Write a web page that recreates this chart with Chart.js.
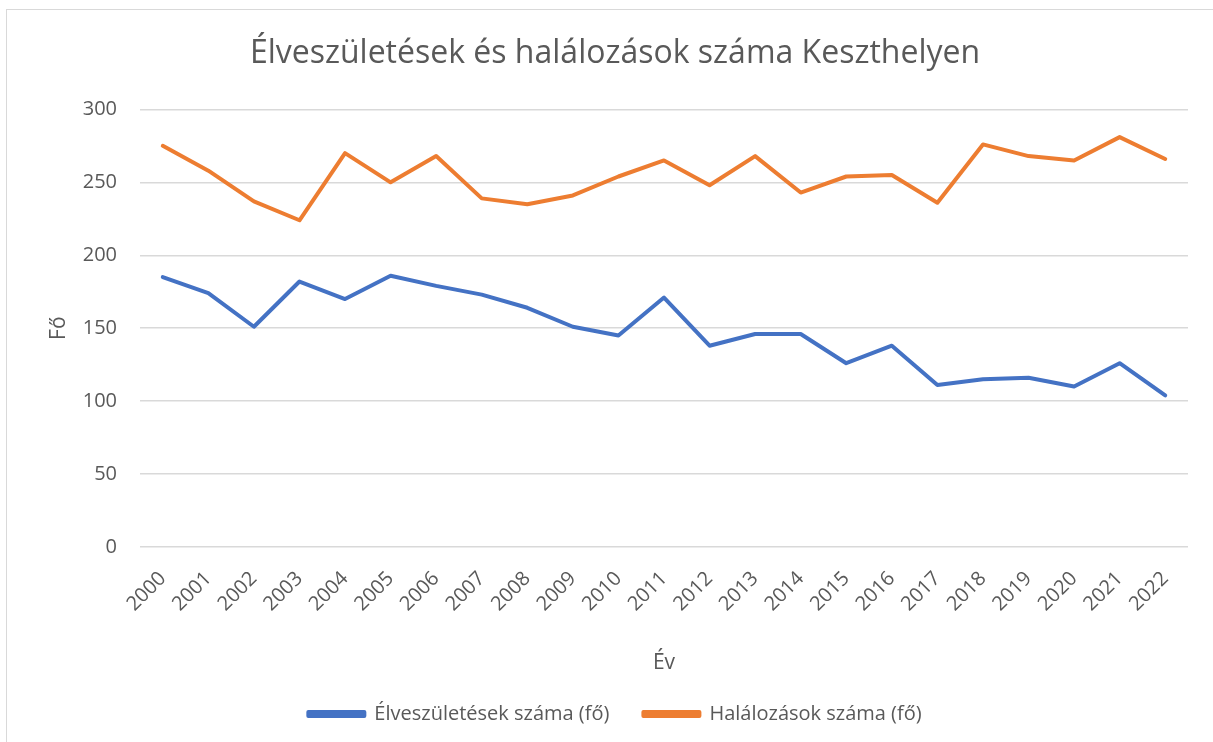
<!DOCTYPE html>
<html>
<head>
<meta charset="utf-8">
<script src="https://cdn.jsdelivr.net/npm/chart.js@4.4.1/dist/chart.umd.min.js"></script>
<style>
  html, body { margin: 0; padding: 0; background: #fff; }
  #wrap { position: relative; width: 1213px; height: 742px; overflow: hidden; }
  #frame { position: absolute; left: 6px; top: 9px; width: 1240px; height: 760px; border: 1.5px solid #d9d9d9; }
  canvas { position: absolute; left: 0; top: 0; }
</style>
</head>
<body>
<div id="wrap">
  <div id="frame"></div>
  <canvas id="chart" width="1213" height="742"></canvas>
</div>
<script>
// years on the x axis
const years = ["2000", "2001", "2002", "2003", "2004", "2005", "2006", "2007", "2008", "2009", "2010", "2011",
  "2012", "2013", "2014", "2015", "2016", "2017", "2018", "2019", "2020", "2021", "2022"];

// live births per year
const births = [185, 174, 151, 182, 170, 186, 179, 173, 164, 151, 145, 171,
  138, 146, 146, 126, 138, 111, 115, 116, 110, 126, 104];

// deaths per year
const deaths = [275, 258, 237, 224, 270, 250, 268, 239, 235, 241, 254, 265,
  248, 268, 243, 254, 255, 236, 276, 268, 265, 281, 266];

const yTicks = [0, 50, 100, 150, 200, 250, 300];

const textColor = "#595959";
const fontFamily = "'Open Sans', sans-serif";

new Chart(document.getElementById("chart"), {
  type: "line",
  data: {
    labels: years,
    datasets: [
      {
        label: "Élveszületések száma (fő)",
        data: births,
        borderColor: "#4472C4",
        backgroundColor: "#4472C4",
        borderWidth: 4,
        pointRadius: 0,
        borderJoinStyle: "round",
        borderCapStyle: "round",
        tension: 0,
      },
      {
        label: "Halálozások száma (fő)",
        data: deaths,
        borderColor: "#ED7D31",
        backgroundColor: "#ED7D31",
        borderWidth: 4,
        pointRadius: 0,
        borderJoinStyle: "round",
        borderCapStyle: "round",
        tension: 0,
      },
    ],
  },
  options: {
    responsive: false,
    animation: false,
    devicePixelRatio: 1,
    layout: { padding: { left: 42, right: 25, top: 10, bottom: 8 } },
    plugins: {
      title: {
        display: true,
        text: "Élveszületések és halálozások száma Keszthelyen",
        color: textColor,
        font: { family: fontFamily, size: 32, weight: "normal" },
        padding: { top: 25, bottom: 36 },
      },
      legend: {
        position: "bottom",
        labels: {
          color: textColor,
          font: { family: fontFamily, size: 20 },
          boxWidth: 56,
          boxHeight: 4,
          padding: 34,
        },
      },
      tooltip: { enabled: false },
    },
    scales: {
      x: {
        offset: true,
        grid: { display: false },
        border: { display: false },
        ticks: {
          color: textColor,
          font: { family: fontFamily, size: 20 },
          minRotation: 45,
          maxRotation: 45,
          autoSkip: false,
          padding: 12,
        },
        title: {
          display: true,
          text: "Év",
          color: textColor,
          font: { family: fontFamily, size: 21 },
          padding: { top: 4, bottom: -6 },
        },
        afterFit: (s) => { s.height = 123; },
      },
      y: {
        min: 0,
        max: 300,
        afterBuildTicks: (s) => { s.ticks = yTicks.map((v) => ({ value: v })); },
        grid: { color: "#d9d9d9", lineWidth: 1.5, drawTicks: false },
        border: { display: false },
        ticks: {
          color: textColor,
          font: { family: fontFamily, size: 20 },
          padding: 23,
        },
        title: {
          display: true,
          text: "Fő",
          color: textColor,
          font: { family: fontFamily, size: 21 },
          padding: { top: 4, bottom: 4 },
        },
        afterFit: (s) => { s.width = 98; },
      },
    },
  },
});
</script>
</body>
</html>
